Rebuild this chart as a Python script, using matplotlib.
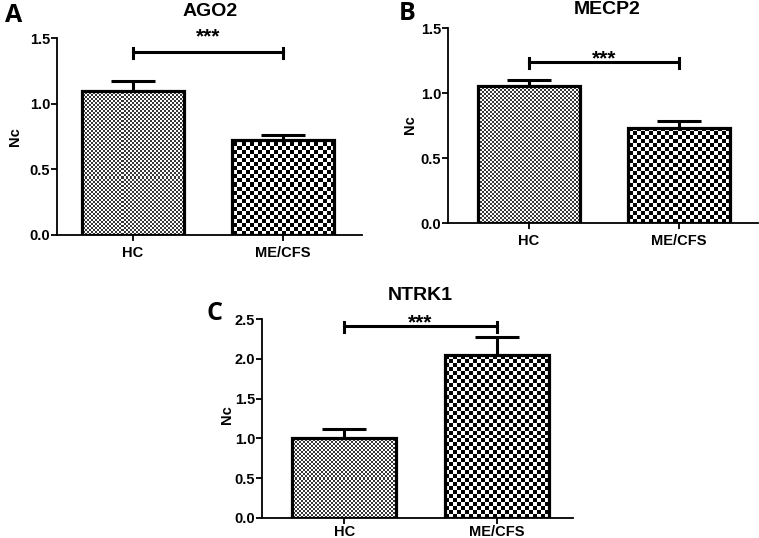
import matplotlib

matplotlib.use("Agg")
import matplotlib.pyplot as plt
import numpy as np

# data
groups = ["HC", "ME/CFS"]
ago2_mean = [1.10, 0.72]
ago2_err = [0.075, 0.04]
mecp2_mean = [1.055, 0.735]
mecp2_err = [0.045, 0.05]
ntrk1_mean = [1.01, 2.05]
ntrk1_err = [0.11, 0.23]

panels = [
    # letter, title, means, errors, ylim top, yticks, significance level
    ("A", "AGO2", ago2_mean, ago2_err, 1.5, [0.0, 0.5, 1.0, 1.5], 1.395),
    ("B", "MECP2", mecp2_mean, mecp2_err, 1.5, [0.0, 0.5, 1.0, 1.5], 1.243),
    ("C", "NTRK1", ntrk1_mean, ntrk1_err, 2.5, [0.0, 0.5, 1.0, 1.5, 2.0, 2.5], 2.41),
]

W, H = 759, 538
# axes boxes in pixels: left, top, right, bottom, xlim, xtick pad, star offset (px)
boxes = [
    (57, 38, 362, 235, (-0.507, 1.525), 4, 9),
    (448, 28.3, 758, 223.3, (-0.54, 1.527), 4, -3),
    (262, 319.3, 573, 517.7, (-0.54, 1.50), 1.5, -2),
]
letter_pos = [(14, 16), (407, 14), (215, 313)]
title_pos = [(210, 11), (607, 9), (420, 295)]
ylabel_pos = [(15, 137), (410, 125), (227, 415)]

FONT = "Liberation Sans"
plt.rcParams["font.family"] = [FONT, "DejaVu Sans"]

fig = plt.figure(figsize=(W / 100, H / 100), dpi=100)


def checker(ax, patch, cell_px, dark):
    x0, x1 = ax.get_xlim()
    y0, y1 = ax.get_ylim()
    bb = ax.get_position()
    nx = int(round(bb.width * W / cell_px))
    ny = int(round(bb.height * H / cell_px))
    yy, xx = np.indices((ny, nx))
    img = np.where((xx + yy) % 2 == 0, dark, 1.0)
    im = ax.imshow(img, cmap="gray", vmin=0, vmax=1, extent=(x0, x1, y0, y1),
                   aspect="auto", interpolation="nearest", origin="lower", zorder=1)
    im.set_clip_path(patch)


for (letter, title, means, errs, ytop, yticks, sig), box, lp, tp, yp in zip(
        panels, boxes, letter_pos, title_pos, ylabel_pos):
    l, t, r, b, xlim, xpad, star_off = box
    ax = fig.add_axes([l / W, 1 - b / H, (r - l) / W, (b - t) / H])
    x = np.arange(len(groups))
    ax.set_xlim(*xlim)
    ax.set_ylim(0, ytop)
    bars = ax.bar(x, means, width=0.68, facecolor="none", edgecolor="black",
                  linewidth=2.3, zorder=3)
    checker(ax, bars[0], 2.0, 0.22)
    checker(ax, bars[1], 4.0, 0.0)
    for xi, m, e in zip(x, means, errs):
        ax.plot([xi, xi], [m, m + e], color="black", lw=2.2, zorder=2,
                solid_capstyle="butt")
        ax.plot([xi - 0.145, xi + 0.145], [m + e, m + e], color="black", lw=2.2,
                zorder=2, solid_capstyle="butt")
    # significance bracket
    d = ytop * 0.03
    ax.plot([0, 1], [sig, sig], color="black", lw=2.2, clip_on=False)
    for xi in (0, 1):
        ax.plot([xi, xi], [sig - d, sig + d * 0.7], color="black", lw=2.2, clip_on=False)
    ax.annotate("***", xy=(0.5, sig), xytext=(0, star_off * 0.72),
                textcoords="offset points", ha="center", va="baseline",
                fontsize=15, fontweight="bold")

    for s in ("top", "right"):
        ax.spines[s].set_visible(False)
    for s in ("left", "bottom"):
        ax.spines[s].set_linewidth(1.3)
    ax.set_yticks(yticks)
    ax.set_yticklabels([f"{v:.1f}" for v in yticks], fontsize=10.5, fontweight="bold")
    ax.set_xticks(x)
    ax.set_xticklabels(groups, fontsize=10.5, fontweight="bold")
    ax.tick_params(axis="y", length=4, width=1.3, pad=1)
    ax.tick_params(axis="x", length=4, width=1.3, pad=xpad)

    fig.text(lp[0] / W, 1 - lp[1] / H, letter, ha="center", va="center",
             fontsize=18, fontweight="bold", family="Open Sans")
    fig.text(tp[0] / W, 1 - tp[1] / H, title, ha="center", va="center",
             fontsize=14, fontweight="bold")
    fig.text(yp[0] / W, 1 - yp[1] / H, "Nc", ha="center", va="center",
             rotation=90, fontsize=10.5, fontweight="bold")

fig.savefig("out.png", dpi=100)
